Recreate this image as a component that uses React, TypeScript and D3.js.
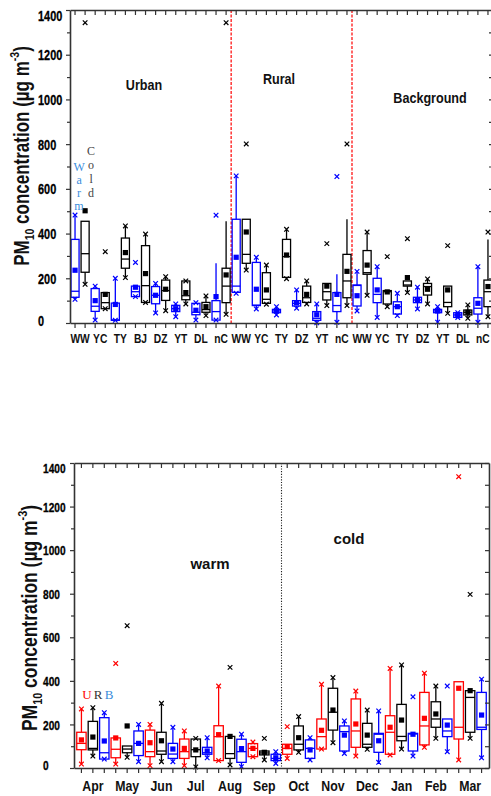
import React, { useEffect, useRef } from "react";
import * as d3 from "d3";

// ---- top panel: sites per site class ----
const urbanSites = ["WW", "YC", "TY", "BJ", "DZ", "YT", "DL", "nC"];
const ruralSites = ["WW", "YC", "TY", "DZ", "YT", "nC"];
const backgroundSites = ["WW", "YC", "TY", "DZ", "YT", "DL", "nC"];

// each box: [min, whiskerLow, q1, median, q3, whiskerHigh, max, mean]  (ug m-3)
const urbanWarm = [
  [106, 106, 115, 142, 374, 483, 483, 236],
  [13, 13, 52, 75, 154, 165, 165, 100],
  [12, 12, 12, 14, 89, 200, 200, 83],
  [118, 118, 118, 140, 165, 165, 271, 160],
  [45, 45, 86, 124, 163, 177, 177, 124],
  [28, 28, 51, 64, 79, 85, 85, 64],
  [13, 13, 37, 48, 88, 91, 91, 57],
  [13, 13, 13, 51, 100, 267, 482, 118],
];
const urbanCold = [
  [173, 173, 227, 310, 455, 455, 1343, 502],
  [64, 64, 64, 91, 136, 136, 319, 128],
  [203, 203, 245, 286, 380, 434, 434, 315],
  [92, 92, 92, 167, 346, 398, 398, 221],
  [55, 55, 101, 145, 192, 207, 207, 151],
  [85, 85, 104, 122, 188, 188, 188, 136],
  [33, 33, 48, 60, 92, 121, 121, 73],
  [39, 39, 91, 165, 245, 455, 1343, 215],
];
const ruralWarm = [
  [133, 133, 137, 165, 464, 658, 658, 294],
  [63, 63, 78, 80, 271, 294, 294, 151],
  [36, 36, 46, 54, 61, 73, 73, 54],
  [66, 66, 76, 88, 100, 148, 148, 91],
  [1, 1, 12, 21, 51, 85, 85, 37],
  [3, 3, 51, 78, 136, 218, 655, 128],
];
const ruralCold = [
  [237, 237, 267, 307, 464, 464, 801, 407],
  [84, 84, 88, 106, 225, 259, 259, 148],
  [198, 198, 204, 297, 374, 419, 419, 304],
  [85, 85, 92, 113, 165, 188, 188, 128],
  [78, 78, 103, 140, 177, 177, 355, 165],
  [78, 78, 113, 188, 307, 464, 801, 231],
];
const backgroundWarm = [
  [54, 54, 76, 168, 170, 231, 231, 122],
  [25, 25, 91, 128, 200, 252, 252, 148],
  [33, 33, 40, 73, 95, 133, 133, 73],
  [63, 63, 91, 103, 115, 160, 160, 104],
  [4, 4, 46, 54, 61, 73, 73, 54],
  [25, 25, 25, 36, 46, 46, 46, 36],
  [3, 3, 40, 66, 113, 252, 252, 88],
];
const backgroundCold = [
  [124, 124, 218, 225, 324, 407, 407, 259],
  [73, 73, 85, 140, 145, 145, 297, 139],
  [136, 136, 165, 170, 188, 188, 377, 203],
  [85, 85, 125, 163, 177, 197, 197, 151],
  [43, 43, 73, 92, 165, 165, 346, 148],
  [21, 21, 36, 48, 58, 81, 81, 48],
  [28, 28, 73, 140, 192, 374, 407, 163],
];

// ---- bottom panel: months, Urban / Rural / Background ----
const months = ["Apr", "May", "Jun", "Jul", "Aug", "Sep", "Oct", "Nov", "Dec", "Jan", "Feb", "Mar"];
const monthUrban = [
  [18, 18, 84, 113, 164, 271, 271, 129],
  [18, 18, 47, 86, 138, 138, 480, 138],
  [11, 11, 52, 75, 174, 200, 200, 116],
  [11, 11, 44, 75, 133, 170, 170, 90],
  [34, 34, 34, 144, 194, 376, 376, 153],
  [52, 52, 52, 90, 112, 119, 119, 90],
  [44, 44, 63, 90, 109, 109, 190, 98],
  [87, 87, 87, 144, 225, 384, 384, 173],
  [55, 55, 95, 170, 317, 353, 353, 202],
  [60, 60, 63, 164, 240, 457, 457, 187],
  [95, 95, 106, 193, 347, 435, 435, 228],
  [37, 37, 133, 187, 396, 396, 1337, 366],
];
const monthRural = [
  [55, 55, 83, 90, 214, 277, 277, 142],
  [49, 49, 70, 87, 101, 101, 653, 193],
  [29, 29, 63, 78, 164, 297, 297, 125],
  [5, 5, 52, 84, 133, 136, 136, 83],
  [14, 14, 44, 66, 145, 145, 462, 145],
  [37, 37, 60, 69, 78, 78, 136, 72],
  [72, 72, 83, 109, 193, 236, 236, 139],
  [116, 116, 174, 256, 366, 415, 415, 266],
  [86, 86, 95, 109, 205, 266, 266, 151],
  [87, 87, 125, 145, 292, 473, 473, 220],
  [136, 136, 187, 225, 304, 376, 376, 248],
  [136, 136, 164, 324, 355, 355, 797, 355],
];
const monthBackground = [
  [41, 41, 41, 70, 231, 254, 254, 124],
  [29, 29, 57, 113, 170, 200, 200, 113],
  [29, 29, 44, 64, 113, 187, 187, 87],
  [47, 47, 63, 70, 95, 139, 139, 78],
  [6, 6, 26, 75, 132, 155, 155, 89],
  [21, 21, 34, 44, 63, 75, 75, 47],
  [37, 37, 44, 90, 129, 139, 139, 83],
  [67, 67, 78, 167, 193, 216, 216, 151],
  [26, 26, 72, 155, 159, 262, 262, 125],
  [55, 55, 78, 156, 159, 159, 327, 155],
  [75, 75, 144, 170, 225, 225, 376, 197],
  [47, 47, 177, 187, 347, 408, 408, 243],
];

const yTicks = [0, 200, 400, 600, 800, 1000, 1200, 1400];

const SANS = "'Liberation Sans', Arial, Helvetica, sans-serif";
const SERIF = "'Liberation Serif', 'Times New Roman', serif";
const BLUE = "#0000ff";
const RED = "#ff0000";
const BLACK = "#000000";
const LIGHT_BLUE = "#3a8ddc";
const AXIS = "#333333";

type Box = { key: string; stats: number[]; color: string };
type Sel = d3.Selection<any, any, any, any>;

const xMark = "M-2.3,-2.3L2.3,2.3M-2.3,2.3L2.3,-2.3";

function drawBoxes(g: Sel, boxes: Box[], x: d3.ScaleBand<string>, y: d3.ScaleLinear<number, number>, frac: number)
{
    const bw = x.bandwidth();
    const w = bw * frac;
    const items = g.selectAll("g.box")
        .data(boxes)
        .join("g")
        .attr("class", "box")
        .attr("transform", d => `translate(${(x(d.key) as number) + bw / 2},0)`)
        .attr("stroke", d => d.color)
        .attr("stroke-width", 1.3)
        .attr("fill", "none");

    // whiskers
    items.append("line").attr("y1", d => y(d.stats[1])).attr("y2", d => y(d.stats[2]));
    items.append("line").attr("y1", d => y(d.stats[4])).attr("y2", d => y(d.stats[5]));

    // box + median
    items.append("rect")
        .attr("x", -w / 2)
        .attr("width", w)
        .attr("y", d => y(d.stats[4]))
        .attr("height", d => Math.max(1, y(d.stats[2]) - y(d.stats[4])));
    items.append("line")
        .attr("x1", -w / 2)
        .attr("x2", w / 2)
        .attr("y1", d => y(d.stats[3]))
        .attr("y2", d => y(d.stats[3]));

    // mean
    items.append("rect")
        .attr("x", -2.6)
        .attr("y", d => y(d.stats[7]) - 2.6)
        .attr("width", 5.2)
        .attr("height", 5.2)
        .attr("fill", d => d.color)
        .attr("stroke", "none");

    // min / max markers
    items.selectAll("path.mk")
        .data(d => [d.stats[0], d.stats[6]])
        .join("path")
        .attr("class", "mk")
        .attr("d", xMark)
        .attr("stroke-width", 1.2)
        .attr("transform", v => `translate(0,${y(v)})`);
}

function drawFrame(svg: Sel, x: d3.ScaleBand<string>, y: d3.ScaleLinear<number, number>, labelX: number, labelSize: number)
{
    const [x0, x1] = x.range();
    const [yb, yt] = y.range();

    const styleAxis = (ax: Sel) =>
    {
        ax.select(".domain").attr("stroke", AXIS).attr("stroke-width", 1.6);
        ax.selectAll(".tick line").attr("stroke", AXIS).attr("stroke-width", 1.2);
    };

    // left, major ticks with labels
    const left = svg.append("g")
        .attr("transform", `translate(${x0},0)`)
        .call(d3.axisLeft(y).tickValues(yTicks).tickFormat(d3.format("d")).tickSizeInner(4).tickSizeOuter(0));
    styleAxis(left);
    left.selectAll(".tick text")
        .attr("x", 0)
        .attr("dy", "0.36em")
        .attr("text-anchor", "start")
        .attr("fill", "#000")
        .attr("stroke", "#000")
        .attr("stroke-width", 0.3)
        .style("font-family", SANS)
        .style("font-weight", "bold")
        .style("font-size", `${labelSize}px`)
        .attr("transform", (d: any) =>
        {
            const shift = d === 0 ? -3 : d === 1400 ? 5 : 0;
            return `translate(${labelX - x0},${shift}) scale(0.78,1)`;
        });

    // left, minor ticks
    const minor = svg.append("g")
        .attr("transform", `translate(${x0},0)`)
        .call(d3.axisLeft(y).tickValues(d3.range(100, 1400, 200)).tickSize(3).tickFormat(() => ""));
    minor.select(".domain").remove();
    styleAxis(minor);

    // right axis, inward ticks
    const right = svg.append("g")
        .attr("transform", `translate(${x1},0)`)
        .call(d3.axisRight(y).tickValues(d3.range(0, 1401, 100)).tickSizeInner(-4).tickSizeOuter(0).tickFormat(() => ""));
    styleAxis(right);

    // top axis, inward ticks
    const top = svg.append("g")
        .attr("transform", `translate(0,${yt})`)
        .call(d3.axisTop(x).tickSizeInner(-5).tickSizeOuter(0).tickFormat(() => ""));
    styleAxis(top);

    // bottom axis, outward ticks
    const bottom = svg.append("g")
        .attr("transform", `translate(0,${yb})`)
        .call(d3.axisBottom(x).tickSizeInner(5).tickSizeOuter(0).tickFormat(() => ""));
    styleAxis(bottom);
}

function yLabel(svg: Sel, x: number, y: number, size: number)
{
    const t = svg.append("text")
        .attr("transform", `translate(${x},${y}) rotate(-90) scale(1,1.25)`)
        .attr("text-anchor", "middle")
        .attr("font-family", SANS)
        .attr("font-weight", "bold")
        .attr("font-size", size)
        .attr("fill", "#111");
    t.append("tspan").text("PM");
    t.append("tspan").attr("font-size", size * 0.62).attr("dy", size * 0.25).text("10");
    t.append("tspan").attr("dy", -size * 0.25).text(" concentration (\u00b5g m");
    t.append("tspan").attr("font-size", size * 0.62).attr("dy", -size * 0.45).text("-3");
    t.append("tspan").attr("dy", size * 0.45).text(")");
}

function label(svg: Sel, text: string, x: number, y: number, size: number, sx: number, color = "#111", family = SANS, weight = "bold")
{
    svg.append("text")
        .attr("transform", `translate(${x},${y}) scale(${sx},1)`)
        .attr("text-anchor", "middle")
        .attr("font-family", family)
        .attr("font-weight", weight)
        .attr("font-size", size)
        .attr("fill", color)
        .text(text);
}

function drawTop(svg: Sel)
{
    const groups = [
        { name: "U", sites: urbanSites, warm: urbanWarm, cold: urbanCold },
        { name: "R", sites: ruralSites, warm: ruralWarm, cold: ruralCold },
        { name: "B", sites: backgroundSites, warm: backgroundWarm, cold: backgroundCold },
    ];
    const boxes: Box[] = [];
    groups.forEach(gp => gp.sites.forEach((s, i) =>
    {
        boxes.push({ key: `${gp.name}-${s}-w`, stats: gp.warm[i], color: BLUE });
        boxes.push({ key: `${gp.name}-${s}-c`, stats: gp.cold[i], color: BLACK });
    }));

    const x = d3.scaleBand<string>().domain(boxes.map(b => b.key)).range([70, 493]);
    const y = d3.scaleLinear().domain([0, 1400]).range([323, 10]);
    const bw = x.bandwidth();

    // red dashed separators between site classes
    ["R-WW-w", "B-WW-w"].forEach(k =>
    {
        svg.append("line")
            .attr("x1", x(k) as number).attr("x2", x(k) as number)
            .attr("y1", y(1400)).attr("y2", y(0))
            .attr("stroke", RED)
            .attr("stroke-width", 1.2)
            .attr("stroke-dasharray", "3,1.5");
    });

    drawBoxes(svg.append("g"), boxes, x, y, 0.8);
    drawFrame(svg, x, y, 38, 14);

    // site labels, centred on each warm/cold pair
    groups.forEach(gp => gp.sites.forEach(s =>
    {
        const cx = (x(`${gp.name}-${s}-w`) as number) + bw;
        label(svg, s, cx, 343, 13.5, 0.76);
    }));

    label(svg, "Urban", 144, 90, 14, 0.9);
    label(svg, "Rural", 279, 84, 14, 0.9);
    label(svg, "Background", 430, 103, 14, 0.9);

    // Warm / Cold vertical captions
    const wx = (x("U-WW-w") as number) + bw / 2 + 4;
    const cxp = (x("U-WW-c") as number) + bw / 2 + 6;
    ["W", "a", "r", "m"].forEach((c, i) =>
        label(svg, c, wx, y(680) + i * 13, 12, 1, LIGHT_BLUE, SERIF, "normal"));
    ["C", "o", "l", "d"].forEach((c, i) =>
        label(svg, c, cxp, y(750) + i * 14, 12, 1, "#444", SERIF, "normal"));

    yLabel(svg, 29, 156, 17);
}

function drawBottom(svg: Sel)
{
    const boxes: Box[] = [];
    months.forEach((m, i) =>
    {
        boxes.push({ key: `${m}-U`, stats: monthUrban[i], color: RED });
        boxes.push({ key: `${m}-R`, stats: monthRural[i], color: BLACK });
        boxes.push({ key: `${m}-B`, stats: monthBackground[i], color: BLUE });
    });

    const x = d3.scaleBand<string>().domain(boxes.map(b => b.key)).range([74, 489]).paddingInner(0).paddingOuter(0.15);
    const y = d3.scaleLinear().domain([0, 1400]).range([768, 463]);
    const bw = x.bandwidth();

    // dotted warm / cold divider
    const dx = x("Oct-U") as number;
    svg.append("line")
        .attr("x1", dx).attr("x2", dx)
        .attr("y1", y(1400)).attr("y2", y(0))
        .attr("stroke", "#222")
        .attr("stroke-width", 1.1)
        .attr("stroke-dasharray", "1.2,1.5");

    drawBoxes(svg.append("g"), boxes, x, y, 0.82);
    drawFrame(svg, x, y, 43, 13);

    months.forEach(m =>
    {
        const cx = (x(`${m}-R`) as number) + bw / 2;
        label(svg, m, cx, 791, 14, 0.88);
    });

    label(svg, "warm", 210, 569, 15, 1);
    label(svg, "cold", 349, 544, 15, 1);

    label(svg, "U", 87, 699, 13, 1, RED, SERIF, "normal");
    label(svg, "R", 98, 699, 13, 1, "#333", SERIF, "normal");
    label(svg, "B", 109, 699, 13, 1, LIGHT_BLUE, SERIF, "normal");

    yLabel(svg, 37, 618, 17.5);
}

export default function App()
{
    const ref = useRef<SVGSVGElement>(null);

    useEffect(() =>
    {
        const svg = d3.select(ref.current);
        svg.selectAll("*").remove();
        drawTop(svg);
        drawBottom(svg);
    }, []);

    return (
        <svg
            ref={ref}
            width={491}
            height={796}
            style={{ position: "absolute", left: 0, top: 0, background: "#fff" }}
        />
    );
}
